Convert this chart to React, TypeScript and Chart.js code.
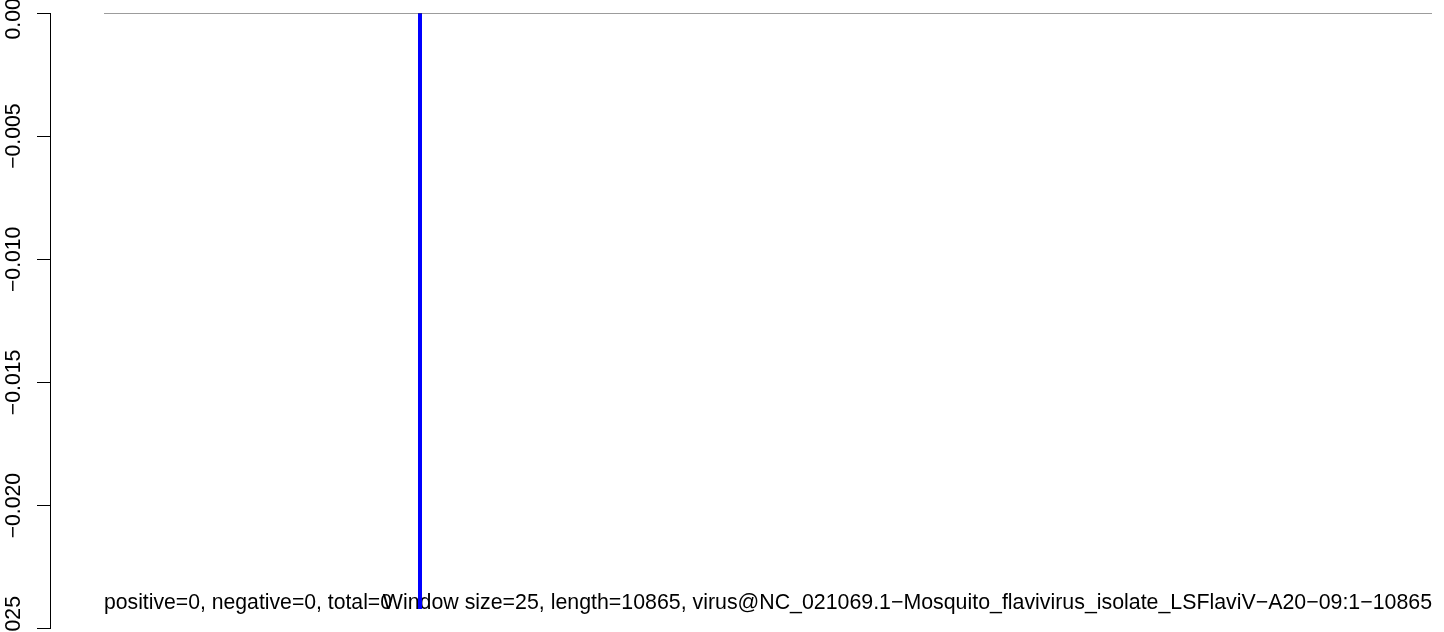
import React, { useEffect, useRef } from "react";
import { Chart, registerables } from "chart.js";

Chart.register(...registerables);

// Data
const SEQ_START = 1;
const SEQ_LENGTH = 10865;
const MARKER_POS = 2586;
const MARKER_BOTTOM = -0.0242;
const Y_TICKS = [0, -0.005, -0.01, -0.015, -0.02, -0.025];
const X_MIN = -440.8;
const X_MAX = 10963;
const LEFT_LABEL = "positive=0, negative=0, total=0";
const RIGHT_LABEL =
  "Window size=25, length=10865, virus@NC_021069.1\u2212Mosquito_flavivirus_isolate_LSFlaviV\u2212A20\u221209:1\u221210865";
const LABEL_Y = -0.0242;

const FONT_FAMILY = "'Liberation Sans', Arial, Helvetica, sans-serif";
const FONT_SIZE = 21.2;

const textPlugin = {
  id: "bottomTexts",
  beforeDatasetsDraw(chart: any) {
    const ctx = chart.ctx;
    const xs = chart.scales.x;
    const ys = chart.scales.y;
    const y = ys.getPixelForValue(LABEL_Y);
    ctx.save();
    ctx.fillStyle = "#000";
    ctx.textBaseline = "alphabetic";
    ctx.font = `${FONT_SIZE}px ${FONT_FAMILY}`;
    ctx.textAlign = "left";
    ctx.fillText(LEFT_LABEL, xs.getPixelForValue(SEQ_START), y);
    ctx.font = `21.35px ${FONT_FAMILY}`;
    ctx.textAlign = "right";
    ctx.fillText(RIGHT_LABEL, xs.getPixelForValue(SEQ_LENGTH), y);
    ctx.restore();
  },
};

export default function App() {
  const ref = useRef<HTMLCanvasElement>(null);
  useEffect(() => {
    document.body.style.margin = "0";
    const chart = new Chart(ref.current!, {
      type: "line",
      data: {
        datasets: [
          {
            data: [
              { x: SEQ_START, y: 0 },
              { x: SEQ_LENGTH, y: 0 },
            ],
            borderColor: "#3a3a3a",
            borderWidth: 1.2,
            pointRadius: 0,
          },
          {
            data: [
              { x: MARKER_POS, y: 0 },
              { x: MARKER_POS, y: MARKER_BOTTOM },
            ],
            borderColor: "#0000FF",
            borderWidth: 4,
            borderCapStyle: "butt",
            pointRadius: 0,
          },
        ],
      },
      options: {
        animation: false,
        responsive: false,
        maintainAspectRatio: false,
        layout: { padding: { top: 13, bottom: 0, left: 0, right: 0 } },
        plugins: { legend: { display: false }, tooltip: { enabled: false } },
        scales: {
          x: { type: "linear", display: false, min: X_MIN, max: X_MAX },
          y: {
            type: "linear",
            min: -0.025,
            max: 0,
            afterFit: (s: any) => {
              s.width = 50;
            },
            afterBuildTicks: (s: any) => {
              s.ticks = Y_TICKS.map((v) => ({ value: v }));
            },
            border: { display: true, color: "#000", width: 1 },
            grid: {
              drawOnChartArea: false,
              drawTicks: true,
              tickLength: 13,
              color: "#000",
              lineWidth: 1,
            },
            ticks: {
              autoSkip: false,
              minRotation: 90,
              maxRotation: 90,
              crossAlign: "center",
              padding: -9.5,
              color: "#000",
              font: { size: FONT_SIZE, family: FONT_FAMILY },
              callback: (v: any) => Number(v).toFixed(3).replace("-", "\u2212"),
            },
          },
        },
      },
      plugins: [textPlugin],
    });
    return () => chart.destroy();
  }, []);
  return <canvas ref={ref} width={1444} height={632} style={{ display: "block" }} />;
}
